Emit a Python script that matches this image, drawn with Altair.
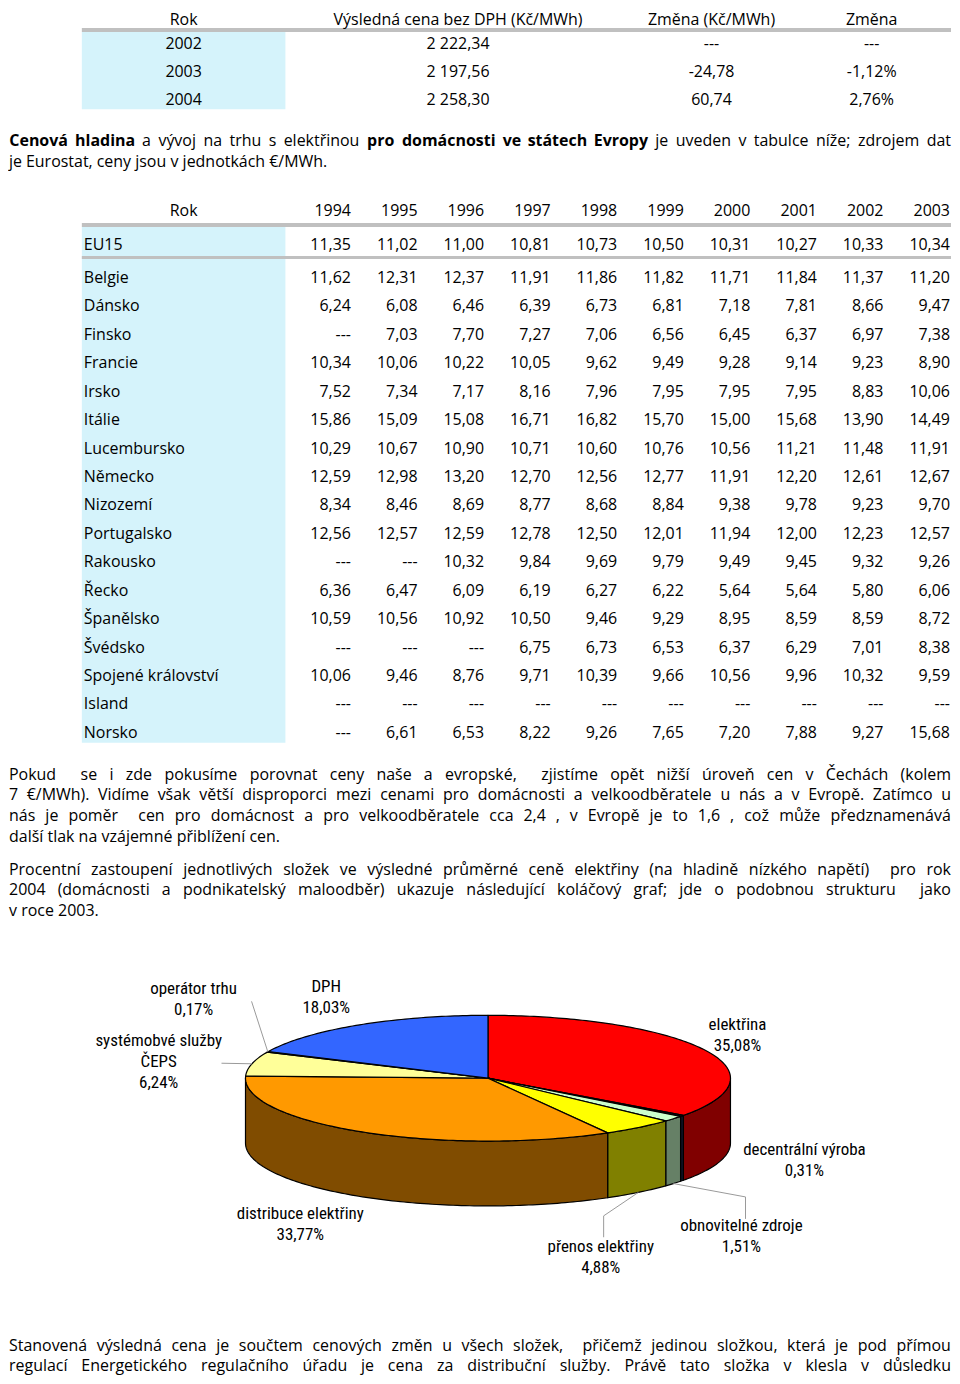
import math
import unicodedata
import altair as alt
import pandas as pd

# ======================= DATA =======================
t1_headers = ["Rok", "Výsledná cena bez DPH (Kč/MWh)", "Změna (Kč/MWh)", "Změna"]
t1_years = ["2002", "2003", "2004"]
t1_price = ["2 222,34", "2 197,56", "2 258,30"]
t1_change = ["---", "-24,78", "60,74"]
t1_change_pct = ["---", "-1,12%", "2,76%"]

t2_header = "Rok"
t2_years = ["1994", "1995", "1996", "1997", "1998", "1999", "2000", "2001", "2002", "2003"]
t2_countries = ["EU15", "Belgie", "Dánsko", "Finsko", "Francie", "Irsko", "Itálie",
                "Lucembursko", "Německo", "Nizozemí", "Portugalsko", "Rakousko", "Řecko",
                "Španělsko", "Švédsko", "Spojené království", "Island", "Norsko"]
eu15 = [11.35, 11.02, 11.00, 10.81, 10.73, 10.50, 10.31, 10.27, 10.33, 10.34]
belgie = [11.62, 12.31, 12.37, 11.91, 11.86, 11.82, 11.71, 11.84, 11.37, 11.20]
dansko = [6.24, 6.08, 6.46, 6.39, 6.73, 6.81, 7.18, 7.81, 8.66, 9.47]
finsko = [None, 7.03, 7.70, 7.27, 7.06, 6.56, 6.45, 6.37, 6.97, 7.38]
francie = [10.34, 10.06, 10.22, 10.05, 9.62, 9.49, 9.28, 9.14, 9.23, 8.90]
irsko = [7.52, 7.34, 7.17, 8.16, 7.96, 7.95, 7.95, 7.95, 8.83, 10.06]
italie = [15.86, 15.09, 15.08, 16.71, 16.82, 15.70, 15.00, 15.68, 13.90, 14.49]
lucembursko = [10.29, 10.67, 10.90, 10.71, 10.60, 10.76, 10.56, 11.21, 11.48, 11.91]
nemecko = [12.59, 12.98, 13.20, 12.70, 12.56, 12.77, 11.91, 12.20, 12.61, 12.67]
nizozemi = [8.34, 8.46, 8.69, 8.77, 8.68, 8.84, 9.38, 9.78, 9.23, 9.70]
portugalsko = [12.56, 12.57, 12.59, 12.78, 12.50, 12.01, 11.94, 12.00, 12.23, 12.57]
rakousko = [None, None, 10.32, 9.84, 9.69, 9.79, 9.49, 9.45, 9.32, 9.26]
recko = [6.36, 6.47, 6.09, 6.19, 6.27, 6.22, 5.64, 5.64, 5.80, 6.06]
spanelsko = [10.59, 10.56, 10.92, 10.50, 9.46, 9.29, 8.95, 8.59, 8.59, 8.72]
svedsko = [None, None, None, 6.75, 6.73, 6.53, 6.37, 6.29, 7.01, 8.38]
uk = [10.06, 9.46, 8.76, 9.71, 10.39, 9.66, 10.56, 9.96, 10.32, 9.59]
island = [None, None, None, None, None, None, None, None, None, None]
norsko = [None, 6.61, 6.53, 8.22, 9.26, 7.65, 7.20, 7.88, 9.27, 15.68]
t2_rows = [eu15, belgie, dansko, finsko, francie, irsko, italie, lucembursko, nemecko,
           nizozemi, portugalsko, rakousko, recko, spanelsko, svedsko, uk, island, norsko]

pie_names = [["elektřina"], ["decentrální výroba"], ["obnovitelné zdroje"], ["přenos elektřiny"],
             ["distribuce elektřiny"], ["systémobvé služby", "ČEPS"], ["operátor trhu"], ["DPH"]]
pie_values = [35.08, 0.31, 1.51, 4.88, 33.77, 6.24, 0.17, 18.03]
pie_top_colors = ["#FF0000", "#1E2850", "#CCFFCC", "#FFFF00", "#FF9900", "#FFFF99", "#333333", "#3366FF"]
pie_wall_colors = ["#800000", "#0F1428", "#668066", "#808000", "#804C00", "#80804C", "#1A1A1A", "#1A3380"]

para1_lines = [
    "**Cenová hladina** a vývoj na trhu s elektřinou **pro domácnosti ve státech Evropy** je uveden v tabulce níže; zdrojem dat",
    "je Eurostat, ceny jsou v jednotkách €/MWh.",
]
para2_lines = [
    "Pokud  se i zde pokusíme porovnat ceny naše a evropské,  zjistíme opět nižší úroveň cen v Čechách (kolem",
    "7 €/MWh). Vidíme však větší disproporci mezi cenami pro domácnosti a velkoodběratele u nás a v Evropě. Zatímco u",
    "nás je poměr  cen pro domácnost a pro velkoodběratele cca 2,4 , v Evropě je to 1,6 , což může předznamenává",
    "další tlak na vzájemné přiblížení cen.",
]
para3_lines = [
    "Procentní zastoupení jednotlivých složek ve výsledné průměrné ceně elektřiny (na hladině nízkého napětí)  pro rok",
    "2004 (domácnosti a podnikatelský maloodběr) ukazuje následující koláčový graf; jde o podobnou strukturu  jako",
    "v roce 2003.",
]
para4_lines = [
    "Stanovená výsledná cena je součtem cenových změn u všech složek,  přičemž jedinou složkou, která je pod přímou",
    "regulací Energetického regulačního úřadu je cena za distribuční služby. Právě tato složka v klesla v důsledku",
]

# ======================= STYLE / LAYOUT =======================
W = 944
FONT = "Open Sans"
FS = 16
INK = "#000000"
CYAN = "#D5F3FB"
GREY = "#C0C0C0"
PIE_FONT = "Liberation Sans Narrow, Arial Narrow, Roboto Condensed, Liberation Sans, sans-serif"
PIE_FS = 17

CW = {' ': 0.26, 'a': 0.556, 'b': 0.613, 'c': 0.476, 'd': 0.613, 'e': 0.561, 'f': 0.339, 'g': 0.548,
      'h': 0.614, 'i': 0.253, 'j': 0.253, 'k': 0.525, 'l': 0.253, 'm': 0.930, 'n': 0.614, 'o': 0.604,
      'p': 0.613, 'q': 0.613, 'r': 0.408, 's': 0.477, 't': 0.353, 'u': 0.614, 'v': 0.501, 'w': 0.778,
      'x': 0.524, 'y': 0.502, 'z': 0.477, 'A': 0.633, 'B': 0.648, 'C': 0.631, 'D': 0.729, 'E': 0.546,
      'F': 0.509, 'G': 0.728, 'H': 0.742, 'I': 0.291, 'J': 0.278, 'K': 0.607, 'L': 0.515, 'M': 0.903,
      'N': 0.766, 'O': 0.770, 'P': 0.595, 'Q': 0.770, 'R': 0.624, 'S': 0.539, 'T': 0.538, 'U': 0.725,
      'V': 0.578, 'W': 0.903, 'X': 0.572, 'Y': 0.555, 'Z': 0.559, ',': 0.245, '.': 0.266, '(': 0.282,
      ')': 0.282, '/': 0.367, '%': 0.828, '€': 0.572, ';': 0.266, '-': 0.322, ':': 0.266}
for d in "0123456789":
    CW[d] = 0.572


def text_width(s, size, bold=False):
    tot = 0.0
    for ch in s:
        base = unicodedata.normalize("NFD", ch)[0]
        tot += CW.get(base, 0.56)
    return tot * size * (1.07 if bold else 1.0)


def fmt(v):
    return "---" if v is None else f"{v:.2f}".replace(".", ",")


def X(field, scale):
    return alt.X(field, scale=scale, axis=None)


def Y(field, scale):
    return alt.Y(field, scale=scale, axis=None)


def txt(df, xs, ys, align="center", dx=0, font=FONT, size=FS, weight="normal"):
    return alt.Chart(pd.DataFrame(df)).mark_text(
        font=font, fontSize=size, fontWeight=weight, align=align, baseline="middle", color=INK, dx=dx
    ).encode(x=X("c:Q", xs), y=Y("r:Q", ys), text="t:N")


def shades(df, xs, ys):
    return alt.Chart(pd.DataFrame(df)).mark_rect().encode(
        x=X("c:Q", xs), x2="c2:Q", y=Y("r:Q", ys), y2="r2:Q", color=alt.Color("fill:N", scale=None)
    )


# ---------- table 1 ----------
def table1_chart():
    H = 116
    xs = alt.Scale(domain=[0, 1, 2, 3, 4], range=[73, 277, 623, 785, 944], zero=False, nice=False)
    ys = alt.Scale(domain=[0, 1, 3], range=[11, 35, 91], zero=False, nice=False)
    cells = [dict(c=i + 0.5, r=0, t=h) for i, h in enumerate(t1_headers)]
    for i, col in enumerate([t1_years, t1_price, t1_change, t1_change_pct]):
        for j, v in enumerate(col):
            cells.append(dict(c=i + 0.5, r=j + 1, t=v))
    bg = shades([dict(c=0, c2=1, r=0.479, r2=3.32, fill=CYAN),
                 dict(c=0, c2=4, r=0.3125, r2=0.479, fill=GREY)], xs, ys)
    return alt.layer(bg, txt(cells, xs, ys)).properties(width=W, height=H)


# ---------- table 2 ----------
def table2_chart():
    H = 570
    xs = alt.Scale(domain=[0, 1, 11], range=[73, 277, 944], zero=False, nice=False)
    ys = alt.Scale(domain=[-1, 0, 1, 17], range=[24, 58, 91, 547], zero=False, nice=False)
    head_c = [dict(c=0.5, r=-1, t=t2_header)]
    head_r = [dict(c=2 + k, r=-1, t=y) for k, y in enumerate(t2_years)]
    names = [dict(c=0, r=i, t=n) for i, n in enumerate(t2_countries)]
    vals = []
    for i, row in enumerate(t2_rows):
        for k, v in enumerate(row):
            vals.append(dict(c=2 + k, r=i, t=fmt(v)))
    bg = shades([dict(c=0, c2=1, r=-0.529, r2=17.35, fill=CYAN),
                 dict(c=0, c2=11, r=-0.647, r2=-0.529, fill=GREY),
                 dict(c=0, c2=11, r=0.333, r2=0.424, fill=GREY)], xs, ys)
    return alt.layer(
        bg,
        txt(head_c, xs, ys),
        txt(head_r, xs, ys, align="right", dx=-1),
        txt(names, xs, ys, align="left", dx=2),
        txt(vals, xs, ys, align="right", dx=-1),
    ).properties(width=W, height=H)


# ---------- paragraphs ----------
def para_chart(lines, H, y0, lh, justify_last=False):
    xs = alt.Scale(domain=[0, W], range=[0, W], zero=False, nice=False)
    ys = alt.Scale(domain=[0, 1], range=[y0, y0 + lh], zero=False, nice=False)
    reg, bold = [], []
    for li, raw in enumerate(lines):
        parts = raw.split("**")
        plain, mask = "", []
        for pi, p in enumerate(parts):
            plain += p
            mask += [pi % 2 == 1] * len(p)
        toks, pos = [], 0
        for w in plain.split(" "):
            toks.append((w, mask[pos] if w else False))
            pos += len(w) + 1
        widths = [text_width(w, FS, b) for w, b in toks]
        justify = (li < len(lines) - 1) or justify_last
        if justify and len(toks) > 1:
            gap = (W - sum(widths)) / (len(toks) - 1)
        else:
            gap = text_width(" ", FS)
        x = 0.0
        for (w, b), wd in zip(toks, widths):
            if w:
                (bold if b else reg).append(dict(c=x + wd / 2, r=li, t=w))
            x += wd + gap
    layers = [txt(reg, xs, ys)]
    if bold:
        layers.append(txt(bold, xs, ys, weight="bold"))
    return alt.layer(*layers).properties(width=W, height=H)


# ---------- pie ----------
def pie_chart():
    H = 405
    XC, YC = 480, 154
    RX, RY, DEPTH = 243, 63, 65
    dz = DEPTH / RY
    xs = alt.Scale(domain=[-XC / RX, (W - XC) / RX], zero=False, nice=False)
    ys = alt.Scale(domain=[-YC / RY, (H - YC) / RY], reverse=True, zero=False, nice=False)

    total = sum(pie_values)
    tops, walls = [], []
    angles = []
    cum = 0.0

    def arc(lo, hi):
        n = max(2, int(math.ceil(hi - lo)) + 1)
        return [lo + (hi - lo) * t / (n - 1) for t in range(n)]

    for s, v in enumerate(pie_values):
        a0 = cum / total * 360.0
        cum += v
        a1 = cum / total * 360.0
        angles.append((a0, a1))
        pts = [(0.0, 0.0)] + [(math.sin(math.radians(a)), -math.cos(math.radians(a))) for a in arc(a0, a1)] + [(0.0, 0.0)]
        for i, (px, py) in enumerate(pts):
            tops.append(dict(pid=f"t{s}", i=i, px=px, py=py, fill=pie_top_colors[s]))
        lo, hi = max(a0, 90.0), min(a1, 270.0)
        if lo < hi:
            upper = [(math.sin(math.radians(a)), -math.cos(math.radians(a))) for a in arc(lo, hi)]
            lower = [(px, py + dz) for px, py in reversed(upper)]
            wpts = upper + lower + [upper[0]]
            for i, (px, py) in enumerate(wpts):
                walls.append(dict(pid=f"w{s}", i=i, px=px, py=py, fill=pie_wall_colors[s]))

    def poly(rows):
        return alt.Chart(pd.DataFrame(rows)).mark_line(
            filled=True, stroke="#000000", strokeWidth=1.2, strokeJoin="round"
        ).encode(
            x=alt.X("px:Q", scale=xs, axis=None), y=alt.Y("py:Q", scale=ys, axis=None),
            detail="pid:N", order="i:Q", color=alt.Color("fill:N", scale=None)
        )

    # label block centres (pie units: x in RX, y in RY from the centre of the top face)
    label_pos = [(1.029, -0.683), (1.305, 1.302), (1.045, 2.516), (0.465, 2.849),
                 (-0.774, 2.325), (-1.358, -0.262), (-1.214, -1.246), (-0.667, -1.286)]
    lh = 21.0 / RY
    labels = []
    for s, v in enumerate(pie_values):
        lines = pie_names[s] + [f"{v:.2f}".replace(".", ",") + "%"]
        cx, cy = label_pos[s]
        for k, line in enumerate(lines):
            labels.append(dict(c=cx, r=cy + (k - (len(lines) - 1) / 2) * lh, t=line))

    def mid(s, bottom=False):
        a = math.radians(sum(angles[s]) / 2)
        return (math.sin(a), -math.cos(a) + (dz if bottom else 0.0))

    leaders = [
        ("operator", [(-0.975, -1.222), mid(6)]),
        ("sluzby", [(-1.099, -0.238), mid(5)]),
        ("obnov", [mid(2, True), (1.062, 1.889), (1.062, 2.238)]),
        ("prenos", [mid(3, True), (0.477, 2.19), (0.477, 2.53)]),
    ]
    lrows = []
    for lid, pts in leaders:
        for i, (px, py) in enumerate(pts):
            lrows.append(dict(lid=lid, i=i, px=px, py=py))
    lead = alt.Chart(pd.DataFrame(lrows)).mark_line(color="#9A9A9A", strokeWidth=1).encode(
        x=alt.X("px:Q", scale=xs, axis=None), y=alt.Y("py:Q", scale=ys, axis=None),
        detail="lid:N", order="i:Q")

    return alt.layer(
        poly(walls), poly(tops), lead,
        txt(labels, xs, ys, font=PIE_FONT, size=PIE_FS),
    ).properties(width=W, height=H)


chart = alt.vconcat(
    table1_chart(),
    para_chart(para1_lines, 62, 16, 21),
    table2_chart(),
    para_chart(para2_lines, 97, 19, 20.7),
    para_chart(para3_lines, 72, 17, 20.5),
    pie_chart(),
    para_chart(para4_lines, 46, 17, 20.5, justify_last=True),
    spacing=0,
    bounds="flush",
).properties(padding=0, background="white").configure_view(stroke=None)

chart.save("out.html", embed_options={"renderer": "svg", "actions": False})
